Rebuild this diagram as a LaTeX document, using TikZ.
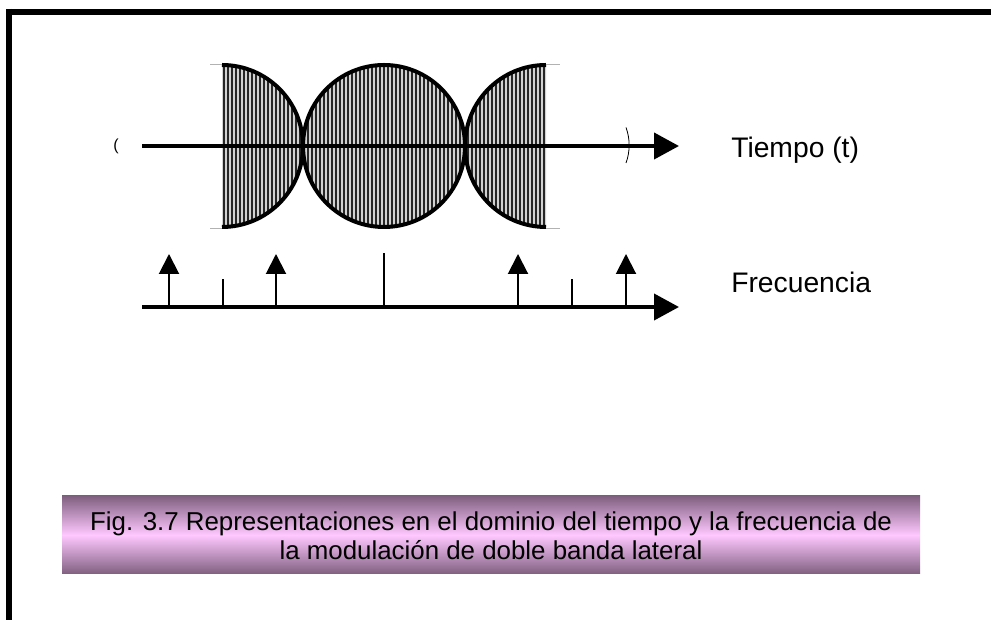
\documentclass[tikz,border=0pt]{standalone}
\usepackage{fontspec}
\setmainfont{Liberation Sans}
\usetikzlibrary{arrows.meta}
\definecolor{capdark}{RGB}{128,96,128}
\definecolor{caplight}{RGB}{255,200,255}
\tikzset{
  axisline/.style={line width=3pt,-{Triangle[length=18.75pt,width=19.5pt]}},
  impulse/.style={line width=1.5pt,-{Triangle[length=15pt,width=15pt]}},
  tickline/.style={line width=1.5pt},
  envstroke/.style={line width=3pt},
  hatch/.style={line width=1.2pt,black!85},
  lbl/.style={font=\fontsize{21.2}{24}\selectfont,anchor=base west,inner sep=0pt},
  captext/.style={font=\fontsize{19.4}{22}\selectfont,anchor=base,inner sep=0pt},
  frameline/.style={line width=4.5pt}
}
\begin{document}
\begin{tikzpicture}[x=0.75pt,y=0.75pt]
\useasboundingbox (0,0) rectangle (991,620);
% frame
\coordinate (ftl) at (9,608);
\coordinate (ftr) at (991,608);
\coordinate (fbl) at (9,0);
\draw[frameline] (6,608) -- (ftr);
\draw[frameline] (9,611) -- (fbl);
% envelope hatch
\begin{scope}
\clip (222,555) arc[start angle=90,end angle=-90,radius=81] -- cycle
      (384,474) circle[radius=81]
      (546,555) arc[start angle=90,end angle=270,radius=81] -- cycle;
\fill[gray!35] (220,390) rectangle (548,558);
\foreach \x in {224,228,...,546} \draw[hatch] (\x,390) -- (\x,558);
\end{scope}
\draw[envstroke] (222,555) arc[start angle=90,end angle=-90,radius=81];
\draw[envstroke] (384,474) circle[radius=81];
\draw[envstroke] (546,555) arc[start angle=90,end angle=270,radius=81];
\draw[gray!60,line width=0.5pt] (210,556) -- (222,556) (210,392) -- (222,392)
  (546,556) -- (560,556) (546,392) -- (560,392);
% time axis
\coordinate (ts) at (142,474);
\coordinate (te) at (679,474);
\draw[axisline] (ts) -- (te);
\node[font=\fontsize{12}{14}\selectfont,inner sep=0pt] (zero) at (116,474) {(};
\draw[line width=0.6pt] (626,457) arc[start angle=-20,end angle=20,radius=52];
\node[lbl] (tiempo) at (731,462) {Tiempo (t)};
% frequency axis
\coordinate (fs) at (142,313);
\coordinate (fe) at (679,313);
\draw[axisline] (fs) -- (fe);
\foreach \x/\n in {169/a,276/b,518/c,626/d}{
  \coordinate (i\n0) at (\x,313);
  \coordinate (i\n1) at (\x,366);
  \draw[impulse] (i\n0) -- (i\n1);
}
\coordinate (s10) at (223,313); \coordinate (s11) at (223,341);
\coordinate (s20) at (572,313); \coordinate (s21) at (572,341);
\coordinate (c0) at (384,313); \coordinate (c1) at (384,367);
\draw[tickline] (s10) -- (s11);
\draw[tickline] (s20) -- (s21);
\draw[tickline] (c0) -- (c1);
\node[lbl] (frec) at (731,327) {Frecuencia};
% caption
\shade[top color=capdark,bottom color=capdark,middle color=caplight] (62,46) rectangle (920,124);
\node[captext] (cap1) at (491,89.5) {Fig. 3.7 Representaciones en el dominio del tiempo y la frecuencia de};
\node[captext] (cap2) at (491,60) {la modulación de doble banda lateral};
\end{tikzpicture}
\end{document}
